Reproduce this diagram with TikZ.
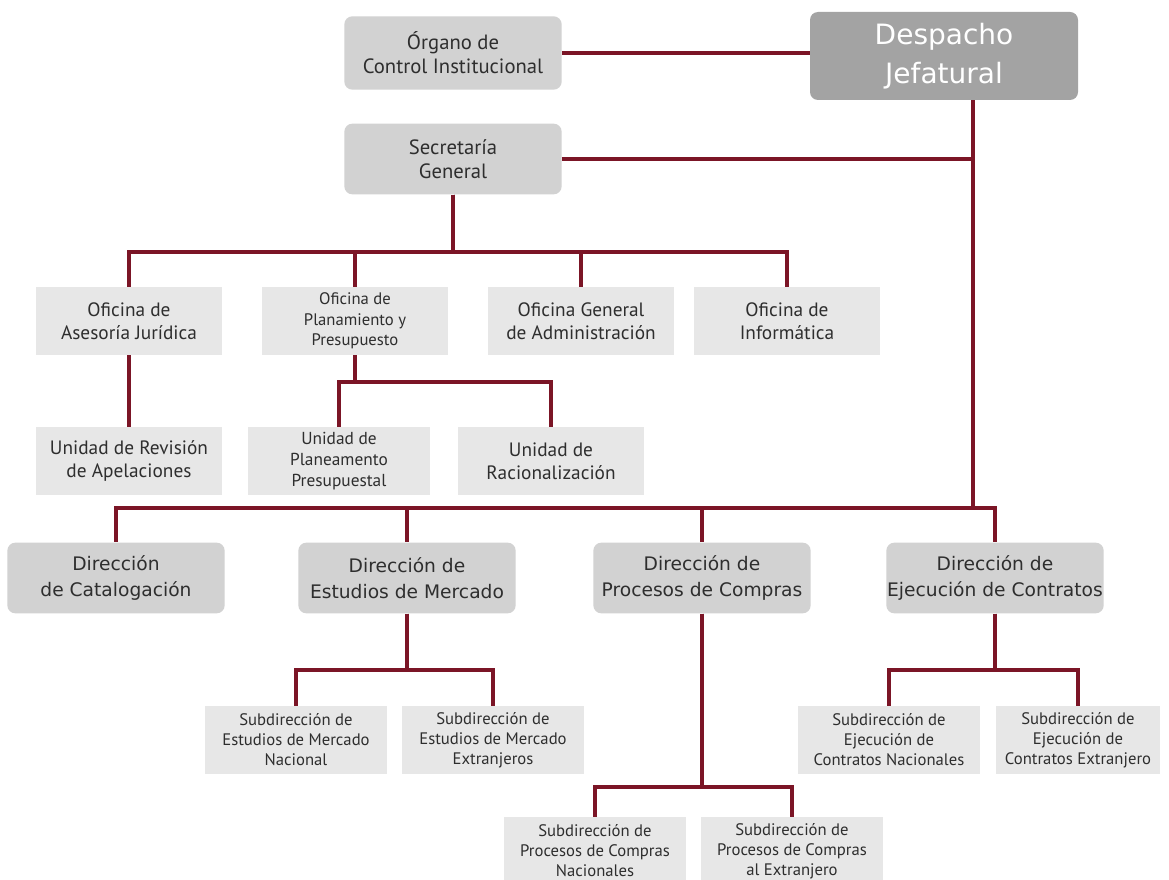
\documentclass[tikz,border=0pt]{standalone}
\usepackage{fontspec}
\setmainfont{PT Sans}
\newfontfamily\dirfont{DejaVu Sans}
\usepackage{xcolor}
\usetikzlibrary{positioning}
\definecolor{linered}{HTML}{7B1526}
\definecolor{boxdark}{HTML}{A3A3A3}
\definecolor{boxmid}{HTML}{D2D2D2}
\definecolor{boxlight}{HTML}{E7E7E7}
\definecolor{txtgray}{HTML}{2E2E2E}

\begin{document}
\begin{tikzpicture}[x=0.75pt,y=-0.75pt,
      box_head/.style={
         rounded corners=6pt,
         fill=boxdark,
         text=white,
         align=center,
         inner sep=0pt,
         minimum width=201pt,
         minimum height=66pt,
         font=\dirfont\fontsize{21}{29}\selectfont},
      box_round/.style={
         rounded corners=6pt,
         fill=boxmid,
         text=txtgray,
         align=center,
         inner sep=0pt,
         minimum width=163pt,
         minimum height=53pt,
         font=\fontsize{15.5}{18}\selectfont},
      box_dir/.style={
         box_round,
         font=\dirfont\fontsize{14}{20}\selectfont},
      box_flat/.style={
         fill=boxlight,
         text=txtgray,
         align=center,
         inner sep=0pt,
         minimum width=139pt,
         minimum height=51pt,
         font=\fontsize{14.5}{17.5}\selectfont},
      box_sub/.style={
         box_flat,
         minimum width=136pt,
         minimum height=51pt,
         font=\fontsize{12.5}{15}\selectfont},
      line_red/.style={
         draw=linered,
         line width=2.8pt,
         }
]
      \useasboundingbox[fill=white] (0,0) rectangle (1169,880);

      %top
      \node[box_head] (desp) at (944,56) {Despacho\\Jefatural};
      \node[box_round,minimum height=55pt] (oci) at (453,53) {Órgano de\\Control Institucional};
      \node[box_round] (sg) at (453,159) {Secretaría\\General};

      %offices
      \node[box_flat] (oaj) at (129,321) {Oficina de\\Asesoría Jurídica};
      \node[box_flat,font=\fontsize{12.5}{15.5}\selectfont] (opp) at (355,321) {Oficina de\\Planamiento y\\Presupuesto};
      \node[box_flat] (oga) at (581,321) {Oficina General\\de Administración};
      \node[box_flat] (oi) at (787,321) {Oficina de\\Informática};

      \node[box_flat] (urev) at (129,461) {Unidad de Revisión\\de Apelaciones};
      \node[box_flat,minimum width=137pt,font=\fontsize{13}{15.5}\selectfont] (upp) at (339,461) {Unidad de\\Planeamento\\Presupuestal};
      \node[box_flat] (urac) at (551,461) {Unidad de\\Racionalización};

      %directions
      \node[box_dir] (dc) at (116,578) {Dirección\\de Catalogación};
      \node[box_dir] (dem) at (407,578) {Dirección de\\Estudios de Mercado};
      \node[box_dir] (dpc) at (702,578) {Dirección de\\Procesos de Compras};
      \node[box_dir] (dec) at (995,578) {Dirección de\\Ejecución de Contratos};

      %sub directions
      \node[box_sub] (sem1) at (296,740) {Subdirección de\\Estudios de Mercado\\Nacional};
      \node[box_sub] (sem2) at (493,740) {Subdirección de\\Estudios de Mercado\\Extranjeros};
      \node[box_sub] (sec1) at (889,740) {Subdirección de\\Ejecución de\\Contratos Nacionales};
      \node[box_sub,minimum width=123pt] (sec2) at (1078,740) {Subdirección de\\Ejecución de\\Contratos Extranjero};
      \node[box_sub] (spc1) at (595,851) {Subdirección de\\Procesos de Compras\\Nacionales};
      \node[box_sub] (spc2) at (792,851) {Subdirección de\\Procesos de Compras\\al Extranjero};

      \coordinate (trunk) at (973,508);

      \draw[line_red] (oci.east) -- (desp.west |- oci.east);
      \draw[line_red] (desp.south -| trunk) -- (trunk);
      \draw[line_red] (sg.east) -- (sg.east -| trunk);

    \foreach \c in {oaj,opp,oga,oi}
      \draw[line_red] (sg.south) |- (\c.north |- 0,252) -- (\c.north);

    \foreach \c in {dc,dem,dpc,dec}
      \draw[line_red] (trunk) -- (\c.north |- trunk) -- (\c.north);

    \foreach \p/\c/\y in {% parent/child/bus height
      oaj/urev/400,
      opp/upp/382,
      opp/urac/382,
      dem/sem1/670,
      dem/sem2/670,
      dec/sec1/670,
      dec/sec2/670,
      dpc/spc1/787,
      dpc/spc2/787}
      \draw[line_red] (\p.south) |- (\c.north |- 0,\y) -- (\c.north);

\end{tikzpicture}
\end{document}
